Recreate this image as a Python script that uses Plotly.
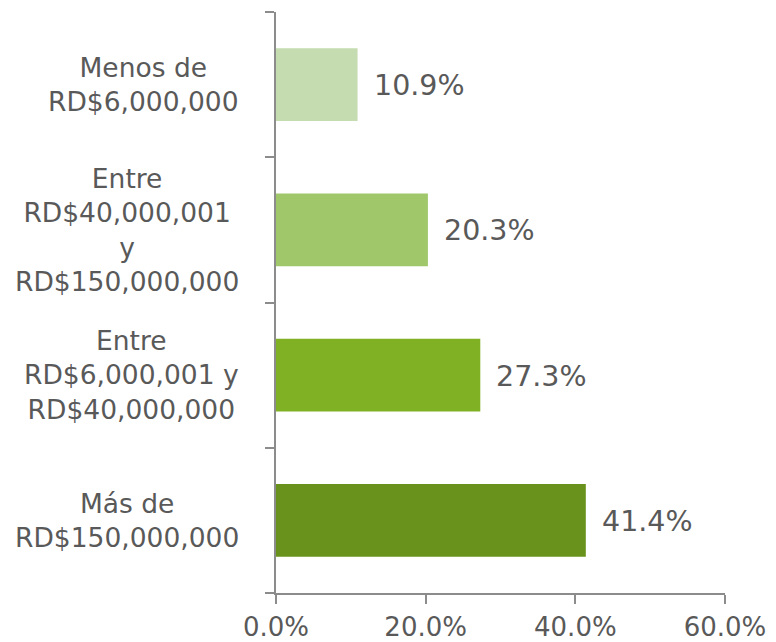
import plotly.graph_objects as go

categories = [
    "Más de RD$150,000,000",
    "Entre RD$6,000,001 y RD$40,000,000",
    "Entre RD$40,000,001 y RD$150,000,000",
    "Menos de RD$6,000,000",
]
label_lines = [
    "Más de<br>RD$150,000,000",
    "Entre<br>RD$6,000,001 y<br>RD$40,000,000",
    "Entre<br>RD$40,000,001<br>y<br>RD$150,000,000",
    "Menos de<br>RD$6,000,000",
]
values = [41.4, 27.3, 20.3, 10.9]
colors = ["#68921b", "#80b125", "#a0c76a", "#c5dbb0"]
x_ticks = [0, 20, 40, 60]

FONT = "DejaVu Sans"
GRAY = "#595959"
AX = "#8c8c8c"

fig = go.Figure(
    go.Bar(
        y=categories,
        x=values,
        orientation="h",
        marker=dict(color=colors, line=dict(width=0)),
        width=0.5,
        hoverinfo="skip",
    )
)

annotations = []
for cat, lab in zip(categories, label_lines):
    annotations.append(dict(
        x=0, xref="paper", y=cat, yref="y", text=lab,
        xanchor="right", yanchor="middle", align="center", xshift=-35,
        showarrow=False, font=dict(family=FONT, size=26.5, color=GRAY),
    ))
for cat, v in zip(categories, values):
    annotations.append(dict(
        x=v, xref="x", y=cat, yref="y", text=f"{v:.1f}%",
        xanchor="left", yanchor="middle", xshift=14, yshift=-1,
        showarrow=False, font=dict(family=FONT, size=28.5, color=GRAY),
    ))

fig.update_layout(
    width=768, height=634,
    margin=dict(l=268, r=51, t=4, b=49),
    paper_bgcolor="white", plot_bgcolor="white",
    showlegend=False,
    annotations=annotations,
    font=dict(family=FONT, color=GRAY, size=26),
)
fig.update_xaxes(
    range=[0, 60], tickvals=x_ticks, ticktext=[f"{t:.1f}%" for t in x_ticks],
    showgrid=False, zeroline=False, showline=True, linecolor=AX, linewidth=1.5,
    ticks="outside", ticklen=9, tickcolor=AX, tickwidth=1.5, ticklabelstandoff=1,
    tickfont=dict(family=FONT, size=26, color=GRAY), automargin=False,
)
fig.update_yaxes(
    categoryorder="array", categoryarray=categories,
    showgrid=False, zeroline=False, showline=True, linecolor=AX, linewidth=1.5,
    ticks="outside", ticklen=9, tickcolor=AX, tickwidth=1.5, tickson="boundaries",
    showticklabels=False, automargin=False,
)

fig.write_html("out.html")
